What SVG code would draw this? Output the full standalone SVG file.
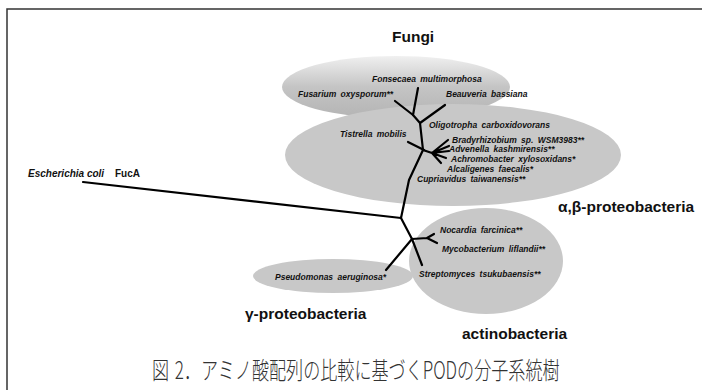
<svg xmlns="http://www.w3.org/2000/svg" width="702" height="390" viewBox="0 0 702 390">
<defs>
<linearGradient id="fg" x1="0" y1="0" x2="0" y2="1">
<stop offset="0" stop-color="#f0f0f0"/>
<stop offset="0.5" stop-color="#c4c4c4"/>
<stop offset="1" stop-color="#b4b4b4"/>
</linearGradient>
<style>
.sp{font-family:"Liberation Sans",Arial,sans-serif;font-weight:bold;font-style:italic;font-size:8.5px;fill:#111;word-spacing:2px}
.grp{font-family:"Liberation Sans",Arial,sans-serif;font-weight:bold;font-size:15.5px;fill:#111}
.br{fill:none;stroke:#000;stroke-width:2.2;stroke-linecap:round;stroke-linejoin:round}
.cl{fill:#c8c8c8}
</style>
</defs>
<rect width="702" height="390" fill="#fff"/>
<path d="M7,390 V9 H702" fill="none" stroke="#333" stroke-width="1.5"/>

<g id="clade-fungi">
<ellipse cx="396" cy="87" rx="114" ry="31" fill="url(#fg)"/>
<text class="grp" x="392" y="42">Fungi</text>
</g>
<g id="clade-ab">
<ellipse class="cl" cx="453" cy="155" rx="168" ry="51"/>
<text class="grp" x="558" y="212">α,β-proteobacteria</text>
</g>
<g id="clade-g">
<ellipse class="cl" cx="333" cy="276" rx="80" ry="17"/>
<text class="grp" x="245" y="319">γ-proteobacteria</text>
</g>
<g id="clade-actino">
<ellipse class="cl" cx="486" cy="261" rx="77" ry="53"/>
<text class="grp" x="462" y="339">actinobacteria</text>
</g>

<g id="connectors">
<path class="br" d="M83,182 L401,218 L409,180 L423,150 L420,123 L413,115 L418,88"/>
<path class="br" d="M413,115 L395,101"/>
<path class="br" d="M420,123 L445,105"/>
<path class="br" d="M408,142 L424,150"/>
<path class="br" d="M423,150 L432,153 M432,153 L448,140 M432,153 L449,146 M432,153 L449,151 M432,153 L446,158 M432,153 L441,163"/>
<path class="br" d="M401,218 L412,239 L427,238 M427,238 L434,234 M427,238 L437,243"/>
<path class="br" d="M412,239 L422,265"/>
<path class="br" d="M412,239 L386,270"/>
</g>

<g id="leaf-ecoli"><text class="sp" style="font-size:10px;word-spacing:0" x="28" y="177">Escherichia coli</text><text x="115" y="177" style="font-family:'Liberation Sans',Arial,sans-serif;font-weight:bold;font-size:10px;fill:#111">FucA</text></g>
<g id="leaf-fons"><text class="sp" x="372" y="82">Fonsecaea multimorphosa</text></g>
<g id="leaf-fus"><text class="sp" x="298" y="97">Fusarium oxysporum**</text></g>
<g id="leaf-beau"><text class="sp" x="446" y="97">Beauveria bassiana</text></g>
<g id="leaf-oligo"><text class="sp" x="429" y="128">Oligotropha carboxidovorans</text></g>
<g id="leaf-tist"><text class="sp" x="340" y="137">Tistrella mobilis</text></g>
<g id="leaf-brady"><text class="sp" x="452" y="143">Bradyrhizobium sp. WSM3983**</text></g>
<g id="leaf-adven"><text class="sp" x="449" y="152">Advenella kashmirensis**</text></g>
<g id="leaf-achro"><text class="sp" x="451" y="162">Achromobacter xylosoxidans*</text></g>
<g id="leaf-alca"><text class="sp" x="447" y="172">Alcaligenes faecalis*</text></g>
<g id="leaf-cupri"><text class="sp" x="417" y="182">Cupriavidus taiwanensis**</text></g>
<g id="leaf-noca"><text class="sp" x="440" y="233">Nocardia farcinica**</text></g>
<g id="leaf-myco"><text class="sp" x="442" y="252">Mycobacterium liflandii**</text></g>
<g id="leaf-strep"><text class="sp" x="419" y="277">Streptomyces tsukubaensis**</text></g>
<g id="leaf-pseudo"><text class="sp" x="275" y="280">Pseudomonas aeruginosa*</text></g>

<g id="caption" transform="translate(152,379) scale(0.712,1)">
<text x="0" y="0" style="font-family:'Noto Sans CJK JP',sans-serif;font-size:24px;font-weight:300;fill:#333">図<tspan dx="8">2．アミノ酸配列の比較に基づくPODの分子系統樹</tspan></text>
</g>
</svg>
